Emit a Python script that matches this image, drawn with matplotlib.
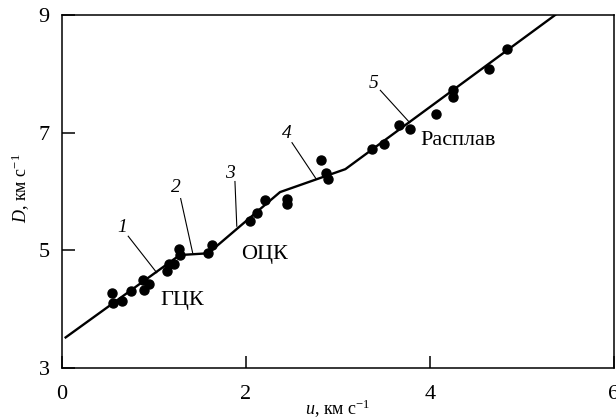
import matplotlib
matplotlib.use("Agg")
import matplotlib.pyplot as plt

# experimental points (u, D)
u_pts = [0.54, 0.55, 0.65, 0.75, 0.88, 0.89, 0.95, 1.14, 1.16, 1.22, 1.27, 1.28,
         1.59, 1.63, 2.04, 2.12, 2.21, 2.45, 2.45, 2.82, 2.87, 2.89, 3.37, 3.50,
         3.66, 3.78, 4.06, 4.25, 4.25, 4.64, 4.84]
D_pts = [4.28, 4.10, 4.14, 4.31, 4.50, 4.32, 4.42, 4.65, 4.76, 4.77, 5.02, 4.92,
         4.95, 5.09, 5.50, 5.63, 5.85, 5.87, 5.79, 6.53, 6.31, 6.22, 6.72, 6.81,
         7.13, 7.06, 7.32, 7.72, 7.61, 8.09, 8.43]

# piecewise fit line vertices
u_line = [0.04, 1.28, 1.59, 2.37, 3.08, 5.36]
D_line = [3.52, 4.92, 4.95, 5.99, 6.38, 9.00]

# segment labels: (label, text pos, leader start, leader end)
seg_labels = ["1", "2", "3", "4", "5"]
seg_text = [(0.65, 5.38), (1.24, 6.06), (1.83, 6.31), (2.44, 6.99), (3.39, 7.84)]
seg_lead_start = [(0.72, 5.24), (1.29, 5.88), (1.88, 6.17), (2.50, 6.83), (3.46, 7.72)]
seg_lead_end = [(1.03, 4.62), (1.42, 4.96), (1.90, 5.41), (2.76, 6.22), (3.78, 7.17)]

phase_labels = ["ГЦК", "ОЦК", "Расплав"]
phase_pos = [(1.31, 4.07), (2.20, 4.85), (3.89, 6.79)]
phase_ha = ["center", "center", "left"]

x_ticks = [0, 2, 4, 6]
y_ticks = [3, 5, 7, 9]

plt.rcParams['font.family'] = ['Liberation Serif', 'DejaVu Serif']
plt.rcParams['mathtext.fontset'] = 'custom'
plt.rcParams['mathtext.rm'] = 'Liberation Serif'
plt.rcParams['mathtext.it'] = 'Liberation Serif:italic'

fig = plt.figure(figsize=(6.16, 4.18), dpi=100)
ax = fig.add_axes([0.1006, 0.1196, 0.8962, 0.8445])

ax.plot(u_line, D_line, color='black', lw=1.7, zorder=2)
ax.plot(u_pts, D_pts, 'o', color='black', ms=6.5, zorder=3)

for lab, tp, ls, le in zip(seg_labels, seg_text, seg_lead_start, seg_lead_end):
    ax.text(tp[0], tp[1], lab, fontsize=14, style='italic', ha='center', va='center')
    ax.plot([ls[0], le[0]], [ls[1], le[1]], color='black', lw=0.8, zorder=1)

for lab, p, ha in zip(phase_labels, phase_pos, phase_ha):
    ax.text(p[0], p[1], lab, fontsize=16, ha=ha, va='baseline')

ax.set_xlim(0, 6)
ax.set_ylim(3, 9)
ax.set_xticks(x_ticks)
ax.set_yticks(y_ticks)
ax.tick_params(direction='in', length=9, width=1.1, labelsize=16)
ax.tick_params(axis='x', pad=12)
ax.tick_params(axis='y', pad=9)
for s in ax.spines.values():
    s.set_linewidth(1.1)

ax.set_xlabel(r'$u$, км с$^{-1}$', fontsize=13)
ax.set_ylabel(r'$D$, км с$^{-1}$', fontsize=13)
ax.xaxis.set_label_coords(0.5, -0.083)
ax.yaxis.set_label_coords(-0.055, 0.51)

fig.savefig('out.png', dpi=100)
